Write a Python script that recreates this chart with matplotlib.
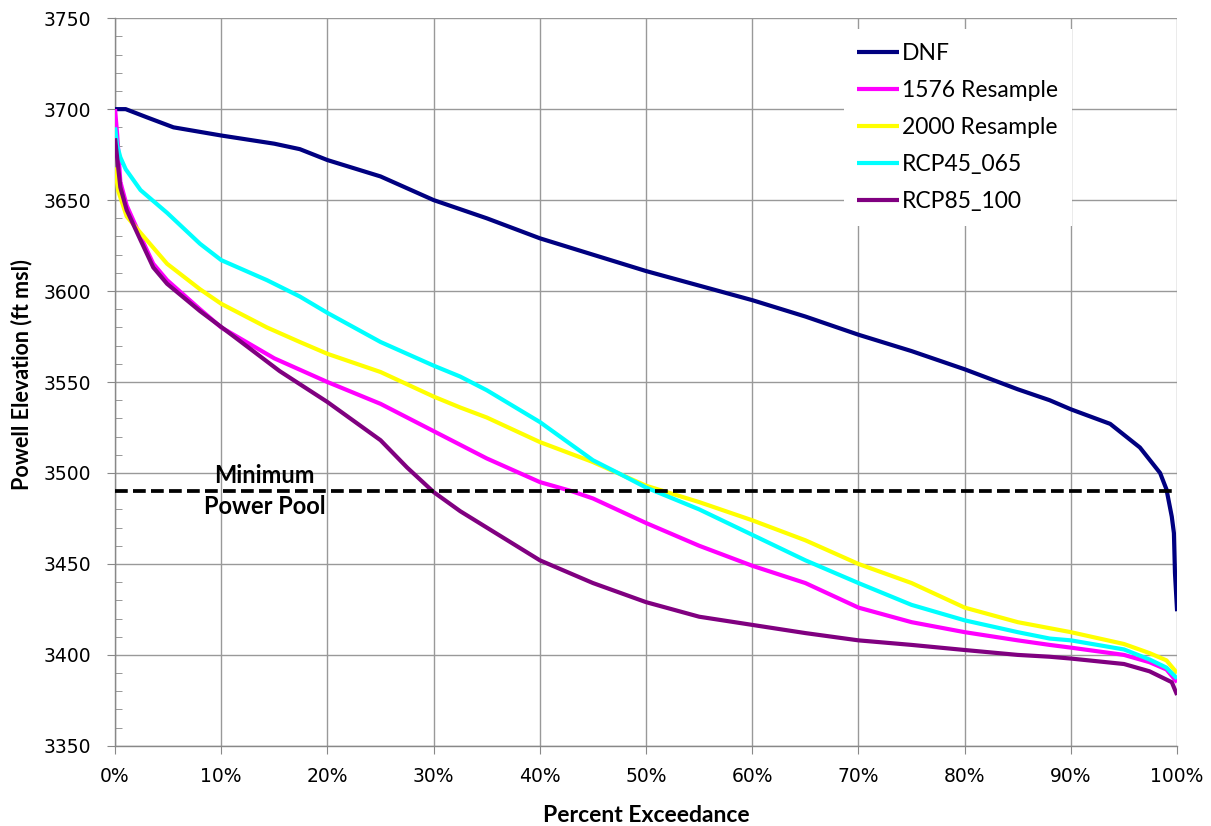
import matplotlib
matplotlib.use("Agg")
import matplotlib.pyplot as plt
from matplotlib.ticker import MultipleLocator, FuncFormatter

# percent exceedance (%) / Powell elevation (ft msl)
dnf_x = [0, 1, 3, 5.5, 10, 15, 17.4, 20, 25, 30, 35, 40, 45, 50, 55, 60, 65, 70, 75,
         80, 85, 88, 90, 93.7, 96.5, 98.4, 99, 99.5, 99.7, 99.8, 100]
dnf_y = [3700, 3700, 3695.5, 3690, 3685.5, 3681, 3678, 3672, 3663, 3650, 3640, 3629,
         3620, 3611, 3603, 3595, 3586, 3576, 3567, 3557, 3546, 3540, 3535, 3527, 3514,
         3500, 3491, 3476, 3467, 3445, 3424]

r1576_x = [0, 0.2, 0.5, 1.1, 2.4, 3.6, 4.9, 8, 10, 15, 20, 25, 30, 32.5, 35, 40, 43,
           45, 50, 55, 60, 65, 70, 75, 80, 85, 88, 90, 95, 97.4, 99, 100]
r1576_y = [3700, 3686, 3660, 3647, 3630, 3615, 3606, 3590, 3580, 3563, 3550, 3538,
           3523, 3515.5, 3508, 3495, 3490, 3486, 3472.5, 3460, 3449, 3439.5, 3426,
           3418, 3412.5, 3408, 3405.5, 3404, 3400, 3396, 3392, 3385]

r2000_x = [0, 0.3, 1.1, 2.4, 4.9, 8, 10, 14.3, 17.4, 20, 25, 30, 32.5, 35, 40, 45,
           47.7, 50, 55, 60, 65, 70, 75, 80, 85, 90, 95, 97.4, 99, 100]
r2000_y = [3668, 3655, 3641, 3632, 3615, 3601, 3593, 3580, 3572, 3565.5, 3555.5, 3542,
           3536, 3530.5, 3517, 3506, 3499, 3493, 3484, 3474, 3463, 3450, 3439.5, 3426,
           3418, 3412.5, 3406, 3401, 3397, 3390]

rcp45_x = [0, 0.2, 0.5, 1, 2.4, 4.9, 8, 10, 14.3, 17.4, 20, 25, 30, 32.5, 35, 40, 45,
           47.7, 50, 55, 60, 65, 70, 75, 80, 85, 88, 90, 95, 97.4, 99, 100]
rcp45_y = [3690, 3680, 3673.5, 3667, 3655.5, 3643, 3626, 3617, 3606, 3597, 3588, 3572,
           3559, 3553, 3545.5, 3528, 3507, 3499, 3492, 3480, 3466, 3452, 3439.5,
           3427.5, 3419, 3412.5, 3409, 3408, 3403, 3397.5, 3393, 3387]

rcp85_x = [0, 0.5, 1.1, 2.4, 3.6, 4.9, 8, 11.2, 15.5, 20, 25, 27.5, 30, 32.5, 35, 40,
           45, 50, 55, 60, 65, 70, 75, 80, 85, 88, 90, 95, 97.4, 99.5, 100]
rcp85_y = [3684, 3657, 3644.5, 3628, 3613, 3604, 3589, 3575, 3556, 3539, 3518, 3503,
           3489.5, 3479, 3470, 3452, 3439.5, 3429, 3421, 3416.5, 3412, 3408, 3405.5,
           3402.7, 3400, 3399, 3398, 3395, 3391, 3385, 3378]

min_power_pool = 3490

series = [
    ("DNF", dnf_x, dnf_y, "#000080"),
    ("1576 Resample", r1576_x, r1576_y, "#FF00FF"),
    ("2000 Resample", r2000_x, r2000_y, "#FFFF00"),
    ("RCP45_065", rcp45_x, rcp45_y, "#00FFFF"),
    ("RCP85_100", rcp85_x, rcp85_y, "#800080"),
]

fig = plt.figure(figsize=(12.11, 8.26), dpi=100)
ax = fig.add_axes([0.095, 0.097, 0.877, 0.881])

for name, xs, ys, col in series:
    ax.plot(xs, ys, color=col, lw=3, label=name, solid_capstyle="butt",
            solid_joinstyle="round", zorder=3)

ax.axhline(min_power_pool, color="black", lw=2.7, ls=(0, (3.4, 1.4)), zorder=4)
for txt, dy in [("Minimum", 11), ("Power Pool", -11)]:
    ax.annotate(txt, xy=(14.1, min_power_pool), xytext=(0, dy), textcoords="offset points",
                ha="center", va="center", fontsize=17, fontweight="bold",
                family="Lato", zorder=5)

ax.set_xlim(0, 100)
ax.set_ylim(3350, 3750)
ax.xaxis.set_major_locator(MultipleLocator(10))
ax.yaxis.set_major_locator(MultipleLocator(50))
ax.yaxis.set_minor_locator(MultipleLocator(10))
ax.xaxis.set_major_formatter(FuncFormatter(lambda v, p: f"{v:.0f}%"))
ax.grid(True, which="major", color="#999999", lw=1)
ax.set_axisbelow(True)

for s in ["top", "right"]:
    ax.spines[s].set_visible(False)
for s in ["left", "bottom"]:
    ax.spines[s].set_color("#888888")
    ax.spines[s].set_linewidth(1)

ax.tick_params(axis="both", which="major", direction="out", length=6, color="#888888",
               labelsize=13.5)
ax.tick_params(axis="y", which="major", pad=11)
ax.tick_params(axis="x", which="major", pad=9)
ax.tick_params(axis="y", which="minor", direction="in", length=5, color="#888888")

ax.set_ylabel("Powell Elevation (ft msl)", fontsize=15.5, fontweight="bold", family="Lato")
ax.yaxis.set_label_coords(-0.078, 0.51)
ax.set_xlabel("Percent Exceedance", fontsize=16.5, fontweight="bold", family="Lato",
              labelpad=14)

leg = ax.legend(loc="upper left", bbox_to_anchor=(0.686, 0.985), borderaxespad=0,
                frameon=True, fancybox=False, framealpha=1, edgecolor="none",
                prop={"family": "Lato", "size": 16.5}, handlelength=1.8,
                handletextpad=0.15, labelspacing=0.70, borderpad=0.6)
leg.set_zorder(6)

fig.savefig("out.png", dpi=100)
